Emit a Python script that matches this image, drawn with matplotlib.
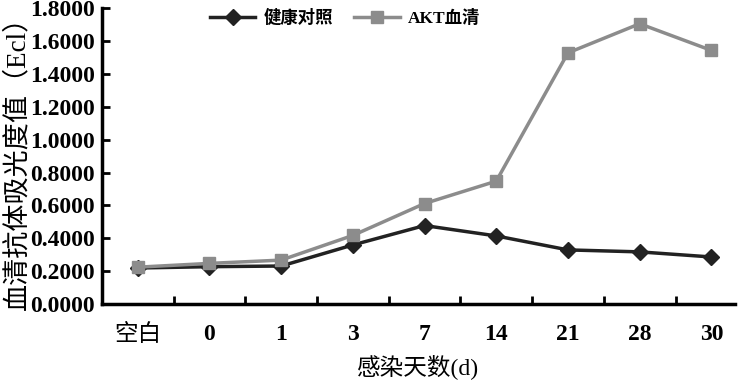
import numpy as np
import matplotlib
matplotlib.use("Agg")
from matplotlib import pyplot as plt

# Data
categories = ["空白", "0", "1", "3", "7", "14", "21", "28", "30"]
healthy = [0.220, 0.228, 0.232, 0.360, 0.478, 0.415, 0.330, 0.318, 0.287]
akt = [0.225, 0.248, 0.268, 0.418, 0.612, 0.748, 1.528, 1.705, 1.543]
yticks = [0.0, 0.2, 0.4, 0.6, 0.8, 1.0, 1.2, 1.4, 1.6, 1.8]

plt.rcParams['font.family'] = ['Liberation Serif', 'Noto Sans CJK SC']
plt.rcParams['font.weight'] = 'bold'

fig = plt.figure(figsize=(7.38, 3.87), dpi=100)
ax = fig.add_axes([0.138, 0.214, 0.858, 0.765])

x = np.arange(len(categories))
ax.plot(x, healthy, color='#222222', lw=2.5, marker='D', ms=8, label='健康对照')
ax.plot(x, akt, color='#8c8c8c', lw=2.5, marker='s', ms=8, label='AKT血清')

ax.set_xlim(-0.5, 8.33)
ax.set_ylim(0, 1.8)
ax.set_yticks(yticks)
ax.set_yticklabels(["%.4f" % v for v in yticks], fontsize=17)
ax.set_xticks(x)
ax.set_xticklabels(categories, fontsize=17)
ax.get_xticklabels()[0].set_fontweight('normal')
ax.set_xticks(x[:-1] + 0.5, minor=True)
ax.tick_params(axis='x', which='major', length=0, pad=14)
ax.tick_params(axis='x', which='minor', direction='in', length=6, width=2)
ax.tick_params(axis='y', direction='in', length=6, width=2, pad=5)

for s in ['top', 'right']:
    ax.spines[s].set_visible(False)
for s in ['left', 'bottom']:
    ax.spines[s].set_linewidth(2.5)

ax.set_xlabel("感染天数(d)", fontsize=17, fontweight='normal', labelpad=6)
ax.set_ylabel("血清抗体吸光度值（Ecl）", fontsize=19.5, fontweight='normal', labelpad=0)

leg = fig.legend(loc='upper center', bbox_to_anchor=(0.468, 1.015), ncol=2, frameon=False,
                 fontsize=12.5, handlelength=2.6, handletextpad=0.5, columnspacing=1.2)

fig.savefig("out.png", dpi=100)
